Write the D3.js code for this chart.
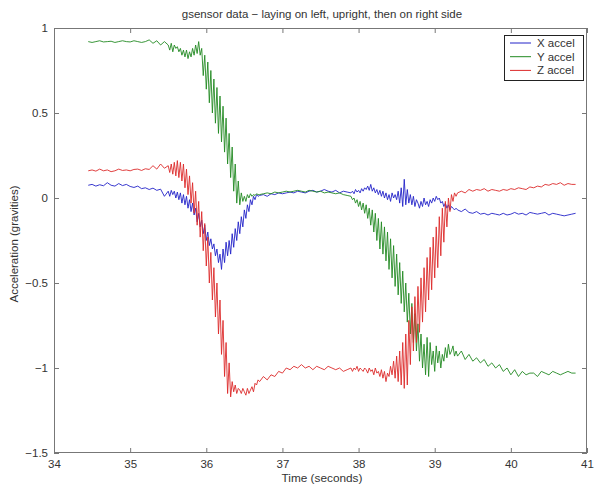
<!DOCTYPE html>
<html>
<head>
<meta charset="utf-8">
<script src="https://cdn.jsdelivr.net/npm/d3@7"></script>
<style>
  body { margin: 0; background: #fff; }
  text { font-family: "Liberation Sans", Arial, sans-serif; fill: #333; }
</style>
</head>
<body>
<svg id="chart" width="595" height="487"></svg>
<script>
const title = "gsensor data \u2212 laying on left, upright, then on right side";
const xLabel = "Time (seconds)";
const yLabel = "Acceleration (gravities)";
const xTicks = [34, 35, 36, 37, 38, 39, 40, 41];
const yTicks = [1, 0.5, 0, -0.5, -1, -1.5];
const seriesNames = ["X accel", "Y accel", "Z accel"];
const seriesColors = ["#2323c8", "#228a22", "#dc2a2a"];

// sample times (s)
const time = [
  34.45,34.50,34.55,34.60,34.65,34.70,34.75,34.80,34.85,34.90,34.95,35.00,35.05,35.10,35.15,35.20,35.25,35.30,35.35,35.40,35.45,
  35.50,35.52,35.54,35.56,35.58,35.60,35.62,35.64,35.66,35.68,
  35.70,35.72,35.74,35.76,35.78,35.80,35.82,35.84,35.86,35.88,
  35.90,35.92,35.94,35.96,35.98,36.00,36.02,36.04,36.06,36.08,
  36.10,36.12,36.14,36.16,36.18,36.20,36.22,36.24,36.26,36.28,
  36.30,36.32,36.34,36.36,36.38,36.40,36.42,36.44,36.46,36.48,
  36.50,36.52,36.54,36.56,36.58,36.60,36.62,36.64,36.66,36.68,
  36.70,36.75,36.80,36.85,36.90,36.95,37.00,37.05,37.10,37.15,37.20,37.25,
  37.30,37.35,37.40,37.45,37.50,37.55,37.60,37.65,37.70,37.75,37.80,37.85,
  37.90,37.92,37.94,37.96,37.98,38.00,38.02,38.04,38.06,38.08,
  38.10,38.12,38.14,38.16,38.18,38.20,38.22,38.24,38.26,38.28,
  38.30,38.32,38.34,38.36,38.38,38.40,38.42,38.44,38.46,38.48,
  38.50,38.52,38.54,38.56,38.58,38.60,38.62,38.64,38.66,38.68,
  38.70,38.72,38.74,38.76,38.78,38.80,38.82,38.84,38.86,38.88,
  38.90,38.92,38.94,38.96,38.98,39.00,39.02,39.04,39.06,39.08,
  39.10,39.12,39.14,39.16,39.18,39.20,39.22,39.24,39.26,39.28,
  39.30,39.35,39.40,39.45,39.50,39.55,39.60,39.65,39.70,39.75,39.80,39.85,39.90,39.95,40.00,40.05,
  40.10,40.15,40.20,40.25,40.30,40.35,40.40,40.45,40.50,40.55,40.60,40.65,40.70,40.75,40.80,40.85
];

const xAccel = [
  0.075,0.08,0.07,0.078,0.072,0.09,0.075,0.07,0.085,0.073,0.08,0.068,0.062,0.07,0.055,0.06,0.05,0.058,0.045,0.052,0.01,
  0.04,0.01,0.045,0.02,0.04,0.0,0.035,-0.01,0.03,-0.03,
  0.02,-0.04,0.01,-0.06,-0.01,-0.08,-0.03,-0.1,-0.06,-0.14,
  -0.09,-0.17,-0.13,-0.21,-0.16,-0.25,-0.2,-0.28,-0.24,-0.3,
  -0.27,-0.34,-0.3,-0.38,-0.33,-0.42,-0.3,-0.38,-0.26,-0.34,
  -0.25,-0.33,-0.21,-0.29,-0.18,-0.25,-0.14,-0.21,-0.11,-0.17,
  -0.07,-0.12,-0.04,-0.08,-0.01,-0.04,0.01,-0.01,0.02,0.01,
  0.015,0.02,0.01,0.025,0.02,0.03,0.025,0.03,0.035,0.03,0.04,0.035,
  0.03,0.04,0.045,0.035,0.04,0.05,0.04,0.035,0.045,0.03,0.04,0.035,
  0.03,0.04,0.025,0.05,0.035,0.045,0.03,0.055,0.04,0.06,
  0.05,0.07,0.045,0.08,0.04,0.06,0.03,0.05,0.02,0.045,
  0.01,0.04,0.0,0.03,-0.01,0.02,-0.02,0.03,0.0,0.02,
  -0.01,0.04,-0.03,0.06,-0.05,0.11,-0.04,0.05,-0.03,0.02,
  -0.04,0.01,-0.05,-0.01,-0.03,-0.06,-0.02,-0.05,0.0,-0.04,
  -0.02,-0.05,-0.01,-0.03,0.0,-0.02,0.01,-0.01,0.0,-0.03,
  -0.02,-0.05,-0.03,-0.06,-0.04,-0.07,-0.05,-0.06,-0.07,-0.06,
  -0.07,-0.08,-0.065,-0.085,-0.09,-0.08,-0.095,-0.09,-0.1,-0.09,-0.095,-0.1,-0.09,-0.1,-0.095,-0.085,
  -0.095,-0.09,-0.1,-0.085,-0.09,-0.095,-0.09,-0.085,-0.1,-0.09,-0.095,-0.1,-0.105,-0.1,-0.095,-0.09
];

const yAccel = [
  0.92,0.915,0.92,0.925,0.918,0.92,0.922,0.915,0.92,0.925,0.92,0.918,0.925,0.92,0.915,0.92,0.93,0.91,0.925,0.9,0.92,
  0.9,0.87,0.91,0.86,0.9,0.88,0.89,0.86,0.88,0.84,
  0.87,0.83,0.87,0.82,0.86,0.83,0.88,0.84,0.9,0.85,
  0.92,0.84,0.88,0.72,0.84,0.64,0.8,0.56,0.75,0.5,
  0.7,0.44,0.65,0.38,0.6,0.33,0.54,0.27,0.47,0.2,
  0.38,0.12,0.3,0.04,0.2,-0.03,0.1,-0.04,0.03,-0.02,
  0.01,-0.02,0.02,0.0,0.025,0.01,0.02,0.015,0.025,0.02,
  0.02,0.025,0.03,0.025,0.035,0.03,0.035,0.04,0.035,0.04,0.045,0.04,
  0.035,0.045,0.04,0.035,0.04,0.03,0.035,0.03,0.025,0.03,0.02,0.015,
  0.01,-0.01,0.0,-0.03,-0.01,-0.05,-0.02,-0.07,-0.03,-0.09,
  -0.04,-0.12,-0.06,-0.16,-0.07,-0.2,-0.09,-0.25,-0.12,-0.3,
  -0.14,-0.33,-0.17,-0.37,-0.2,-0.42,-0.24,-0.47,-0.28,-0.52,
  -0.33,-0.57,-0.38,-0.62,-0.43,-0.67,-0.5,-0.73,-0.56,-0.8,
  -0.62,-0.85,-0.68,-0.9,-0.74,-0.96,-0.8,-1.0,-0.86,-1.04,
  -0.82,-1.05,-0.85,-0.98,-0.9,-1.02,-0.87,-0.97,-0.9,-1.0,
  -0.92,-0.96,-0.88,-0.94,-0.86,-0.92,-0.9,-0.87,-0.93,-0.9,
  -0.93,-0.9,-0.95,-0.92,-0.96,-0.94,-0.97,-0.95,-0.99,-0.97,-1.0,-0.98,-1.02,-1.0,-1.04,-1.01,
  -1.05,-1.02,-1.04,-1.03,-1.03,-1.05,-1.02,-1.03,-1.04,-1.02,-1.03,-1.04,-1.03,-1.02,-1.03,-1.03
];

const zAccel = [
  0.16,0.165,0.158,0.17,0.16,0.165,0.155,0.16,0.17,0.162,0.165,0.16,0.168,0.17,0.162,0.172,0.168,0.19,0.17,0.2,0.175,
  0.19,0.15,0.2,0.14,0.21,0.13,0.22,0.12,0.21,0.1,
  0.2,0.06,0.17,0.02,0.13,-0.03,0.09,-0.09,0.04,-0.16,
  -0.02,-0.23,-0.08,-0.31,-0.15,-0.4,-0.23,-0.5,-0.32,-0.6,
  -0.41,-0.7,-0.5,-0.8,-0.6,-0.92,-0.72,-1.05,-0.85,-1.15,
  -0.97,-1.17,-1.08,-1.14,-1.1,-1.15,-1.12,-1.13,-1.15,-1.12,
  -1.14,-1.16,-1.12,-1.15,-1.13,-1.11,-1.14,-1.09,-1.1,-1.07,
  -1.08,-1.05,-1.07,-1.04,-1.05,-1.02,-1.03,-1.0,-1.01,-0.99,-1.0,-0.98,
  -1.0,-0.99,-1.01,-0.99,-1.0,-1.01,-0.99,-1.0,-1.01,-1.0,-1.02,-1.01,
  -1.0,-1.02,-1.0,-1.01,-0.99,-1.02,-1.0,-1.01,-1.02,-1.0,
  -1.01,-1.03,-1.0,-1.02,-1.01,-1.04,-1.0,-1.03,-1.02,-1.05,
  -1.01,-1.06,-1.02,-1.08,-1.03,-1.05,-0.99,-1.04,-0.96,-1.06,
  -0.93,-1.08,-0.9,-1.1,-0.85,-1.12,-0.8,-1.1,-0.72,-0.98,
  -0.64,-0.9,-0.58,-0.85,-0.52,-0.79,-0.47,-0.73,-0.41,-0.67,
  -0.35,-0.6,-0.29,-0.54,-0.23,-0.47,-0.17,-0.41,-0.11,-0.34,
  -0.06,-0.26,-0.02,-0.17,0.0,-0.08,0.02,-0.02,0.03,0.01,
  0.03,0.04,0.03,0.05,0.04,0.05,0.045,0.055,0.04,0.05,0.045,0.04,0.05,0.045,0.055,0.05,
  0.06,0.055,0.05,0.065,0.06,0.07,0.065,0.08,0.075,0.085,0.08,0.09,0.075,0.085,0.08,0.08
];

const series = [xAccel, yAccel, zAccel];

const W = 595, H = 487;
const m = {left: 54, right: 8, top: 28, bottom: 34};
const svg = d3.select("#chart");

const x = d3.scaleLinear().domain([34, 41]).range([m.left, W - m.right]);
const y = d3.scaleLinear().domain([-1.5, 1]).range([H - m.bottom, m.top]);
const fmt = (d) => d3.format("")(d).replace("-", "\u2212");

svg.append("defs").append("clipPath").attr("id", "plotclip")
  .append("rect")
  .attr("x", m.left).attr("y", m.top)
  .attr("width", W - m.left - m.right).attr("height", H - m.top - m.bottom);

const line = d3.line()
  .x((d, i) => x(time[i]))
  .y((d) => y(d));

svg.append("g").attr("clip-path", "url(#plotclip)")
  .selectAll("path")
  .data(series)
  .enter()
  .append("path")
  .attr("d", line)
  .attr("fill", "none")
  .attr("stroke", (d, i) => seriesColors[i])
  .attr("stroke-width", 0.9)
  .attr("stroke-linejoin", "round");

// matlab style box with inward ticks on all sides
const tickLen = 5;
const axisColor = "#777";
svg.append("g")
  .attr("transform", `translate(0,${H - m.bottom})`)
  .call(d3.axisBottom(x).tickValues(xTicks).tickSize(-tickLen).tickPadding(7).tickFormat(fmt))
  .call((g) => g.select(".domain").remove());
svg.append("g")
  .attr("transform", `translate(0,${m.top})`)
  .call(d3.axisTop(x).tickValues(xTicks).tickSize(-tickLen).tickFormat(""))
  .call((g) => g.select(".domain").remove());
svg.append("g")
  .attr("transform", `translate(${m.left},0)`)
  .call(d3.axisLeft(y).tickValues(yTicks).tickSize(-tickLen).tickPadding(6).tickFormat(fmt))
  .call((g) => g.select(".domain").remove());
svg.append("g")
  .attr("transform", `translate(${W - m.right},0)`)
  .call(d3.axisRight(y).tickValues(yTicks).tickSize(-tickLen).tickFormat(""))
  .call((g) => g.select(".domain").remove());

svg.selectAll(".tick line").attr("stroke", axisColor);
svg.selectAll(".tick text")
  .attr("font-family", "Liberation Sans, Arial, sans-serif")
  .attr("font-size", 11.5)
  .attr("fill", "#333");

svg.append("rect")
  .attr("x", m.left + 0.5).attr("y", m.top + 0.5)
  .attr("width", W - m.left - m.right - 1).attr("height", H - m.top - m.bottom - 1)
  .attr("fill", "none").attr("stroke", axisColor).attr("stroke-width", 1);

svg.append("text")
  .attr("x", 322).attr("y", 18)
  .attr("text-anchor", "middle")
  .attr("font-size", 11.5)
  .text(title);

svg.append("text")
  .attr("x", 322).attr("y", 482)
  .attr("text-anchor", "middle")
  .attr("font-size", 11.8)
  .text(xLabel);

svg.append("text")
  .attr("transform", `translate(18,244) rotate(-90)`)
  .attr("text-anchor", "middle")
  .attr("font-size", 11.5)
  .text(yLabel);

// legend
const legend = svg.append("g").attr("transform", "translate(504,35)");
legend.append("rect")
  .attr("x", 0.5).attr("y", 0.5).attr("width", 79).attr("height", 45)
  .attr("fill", "#fff").attr("stroke", "#222").attr("stroke-width", 1);
seriesNames.forEach((name, i) => {
  const ly = 8 + i * 13.7;
  legend.append("line")
    .attr("x1", 6).attr("x2", 27).attr("y1", ly).attr("y2", ly)
    .attr("stroke", seriesColors[i]).attr("stroke-width", 1);
  legend.append("text")
    .attr("x", 33).attr("y", ly + 4)
    .attr("font-size", 11.5)
    .text(name);
});
</script>
</body>
</html>
